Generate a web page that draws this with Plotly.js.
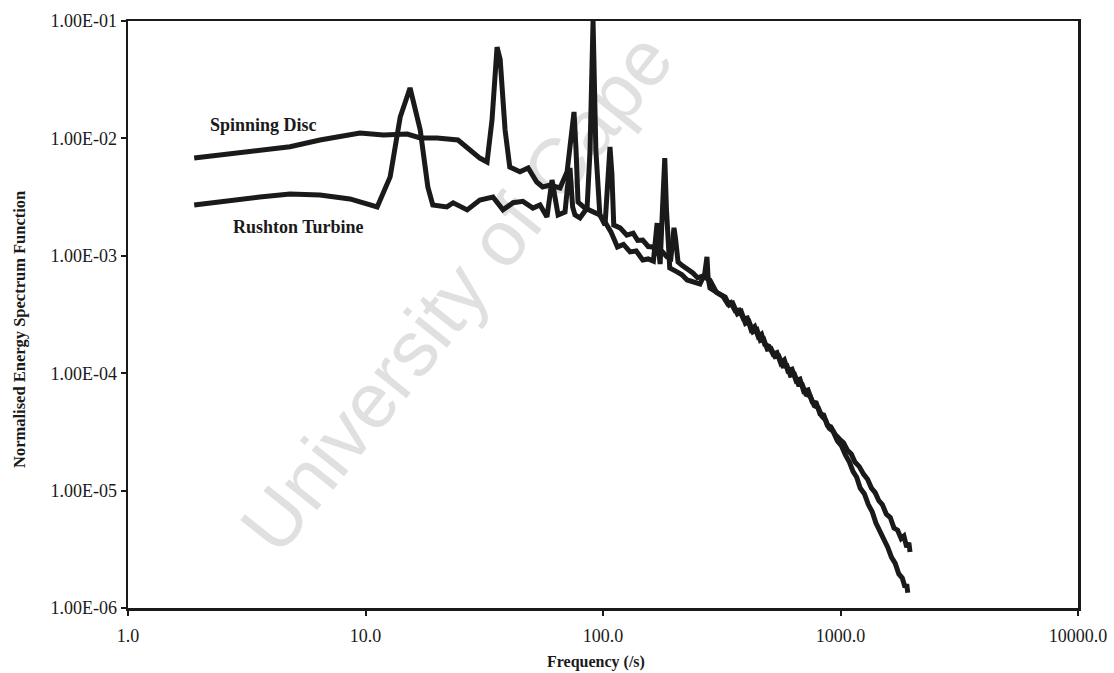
<!DOCTYPE html>
<html>
<head>
<meta charset="utf-8">
<script src="https://cdn.plot.ly/plotly-3.0.1.min.js"></script>
<style>
  html, body { margin: 0; padding: 0; background: #ffffff; }
  #chart { width: 1114px; height: 673px; }
</style>
</head>
<body>
<div id="chart"></div>
<script>
// Normalised energy spectrum, spinning disc vs Rushton turbine (log-log)

// Spinning Disc: frequency (1/s) and normalised energy
const discFreq = [
  1.90, 2.44, 3.26, 4.81, 6.43, 8.2, 9.48, 11.9, 15.0, 17.0, 20.0, 24.5, 27.5, 30.3, 32.5,
  34.1, 35.8, 36.9, 38.7, 40.5, 44.7, 48.4, 52.6, 55.7, 59.8, 65.9, 70.6, 73.5, 75.5, 77.0,
  78.5, 84, 91, 97, 102, 105, 107, 109, 111, 118, 126, 134, 140, 147, 155, 162, 170, 178,
  186, 193, 197, 199, 202, 207, 215, 225, 239, 250, 262, 282, 300,
  320, 335, 345, 360, 375, 390, 405, 420, 435, 450, 465, 480, 500, 520, 540, 560, 580, 600,
  625, 650, 675, 700, 730, 760, 790, 820, 850, 880, 910, 950, 990, 1030, 1070, 1110, 1150,
  1200, 1250, 1300, 1350, 1400, 1450, 1500, 1560, 1620, 1680, 1740, 1800, 1850, 1900, 1940, 1962
];
const discValue = [
  6.8e-3, 7.2e-3, 7.7e-3, 8.5e-3, 9.7e-3, 1.07e-2, 1.11e-2, 1.07e-2, 1.09e-2, 1.01e-2, 1.01e-2, 9.7e-3, 8.0e-3, 6.8e-3, 6.3e-3,
  1.44e-2, 6.0e-2, 4.7e-2, 1.18e-2, 5.7e-3, 5.2e-3, 5.6e-3, 4.25e-3, 3.86e-3, 4.0e-3, 3.78e-3, 5.2e-3, 1.2e-2, 1.68e-2, 8.0e-3,
  2.87e-3, 2.55e-3, 2.35e-3, 2.23e-3, 1.83e-3, 5.5e-3, 8.46e-3, 5.0e-3, 1.83e-3, 1.73e-3, 1.5e-3, 1.56e-3, 1.35e-3, 1.36e-3, 1.2e-3, 1.19e-3, 1.05e-3, 1.08e-3,
  9.8e-4, 9.5e-4, 1.5e-3, 1.73e-3, 1.4e-3, 8.86e-4, 8.3e-4, 7.8e-4, 7.14e-4, 6.5e-4, 6.7e-4, 6.22e-4, 4.9e-4,
  4.5e-4, 3.9e-4, 4.0e-4, 3.4e-4, 3.45e-4, 2.9e-4, 2.95e-4, 2.35e-4, 2.5e-4, 2.05e-4, 2.15e-4, 1.75e-4, 1.7e-4, 1.45e-4, 1.5e-4, 1.22e-4, 1.3e-4, 1.05e-4,
  1.08e-4, 8.6e-5, 8.9e-5, 7.0e-5, 7.2e-5, 5.7e-5, 5.6e-5, 4.5e-5, 4.4e-5, 3.6e-5, 3.5e-5, 3.0e-5, 2.75e-5, 2.55e-5, 2.2e-5, 2.05e-5, 1.75e-5,
  1.6e-5, 1.38e-5, 1.25e-5, 1.05e-5, 9.6e-6, 8.2e-6, 7.6e-6, 6.3e-6, 5.9e-6, 4.8e-6, 4.6e-6, 3.9e-6, 4.1e-6, 3.3e-6, 3.6e-6, 3.0e-6
];

// Rushton Turbine: frequency (1/s) and normalised energy
const turbineFreq = [
  1.90, 2.77, 3.59, 4.81, 6.43, 8.6, 10.4, 11.2, 12.7, 14.0, 15.4, 17.0, 18.3, 19.2, 22.0,
  23.4, 26.8, 30.3, 34.4, 37.9, 41.8, 46.0, 50.7, 54.3, 58.1, 61.0, 64.7, 69.2, 71.0, 72.6,
  74.5, 76.2, 80, 85.7, 88.2, 90.8, 93.3, 97, 102, 108, 115, 122, 130, 138, 147, 155, 163,
  167, 169, 171, 174, 178, 182, 185, 191, 205, 215, 226, 240, 256, 268, 274, 277, 282, 300,
  327, 340, 352, 368, 382, 398, 412, 428, 445, 460, 475, 492, 510, 530, 550, 572, 595, 615,
  640, 665, 690, 715, 745, 775, 805, 835, 865, 895, 930, 970, 1010, 1050, 1090, 1130, 1170,
  1210, 1260, 1310, 1360, 1410, 1460, 1520, 1580, 1640, 1700, 1760, 1820, 1870, 1900, 1920
];
const turbineValue = [
  2.71e-3, 3.0e-3, 3.17e-3, 3.36e-3, 3.30e-3, 3.05e-3, 2.71e-3, 2.61e-3, 4.7e-3, 1.52e-2, 2.69e-2, 1.18e-2, 3.86e-3, 2.71e-3, 2.61e-3,
  2.83e-3, 2.46e-3, 2.99e-3, 3.17e-3, 2.46e-3, 2.83e-3, 2.91e-3, 2.55e-3, 2.71e-3, 2.14e-3, 4.42e-3, 2.23e-3, 2.36e-3, 4.0e-3, 5.6e-3,
  2.6e-3, 2.23e-3, 2.1e-3, 2.55e-3, 7.96e-3, 1.0e-1, 7.96e-3, 2.23e-3, 1.94e-3, 1.6e-3, 1.19e-3, 1.25e-3, 1.08e-3, 1.1e-3, 9.2e-4, 9.4e-4, 9.0e-4,
  1.6e-3, 1.9e-3, 1.2e-3, 8.5e-4, 2.5e-3, 6.81e-3, 2.5e-3, 7.87e-4, 7.3e-4, 6.9e-4, 6.22e-4, 6.0e-4, 5.75e-4, 7.0e-4, 9.8e-4, 6.5e-4, 5.32e-4, 4.9e-4,
  4.46e-4, 3.8e-4, 3.95e-4, 3.2e-4, 3.35e-4, 2.65e-4, 2.75e-4, 2.25e-4, 2.35e-4, 1.9e-4, 1.95e-4, 1.6e-4, 1.62e-4, 1.38e-4, 1.4e-4, 1.15e-4, 1.16e-4, 9.6e-5,
  9.8e-5, 8.0e-5, 8.0e-5, 6.6e-5, 6.4e-5, 5.3e-5, 5.1e-5, 4.3e-5, 4.0e-5, 3.4e-5, 3.2e-5, 2.65e-5, 2.4e-5, 2.0e-5, 1.75e-5, 1.45e-5, 1.3e-5,
  1.05e-5, 9.4e-6, 7.6e-6, 6.6e-6, 5.3e-6, 4.6e-6, 3.8e-6, 3.3e-6, 2.7e-6, 2.4e-6, 1.95e-6, 1.8e-6, 1.5e-6, 1.6e-6, 1.35e-6
];

// Axis ticks
const xTickVals = [1, 10, 100, 1000, 10000];
const xTickText = ['1.0', '10.0', '100.0', '1000.0', '10000.0'];
const yTickVals = [1e-6, 1e-5, 1e-4, 1e-3, 1e-2, 1e-1];
const yTickText = ['1.00E-06', '1.00E-05', '1.00E-04', '1.00E-03', '1.00E-02', '1.00E-01'];

const serif = 'Liberation Serif, Times New Roman, serif';
const ink = '#1a1a1a';

const lineStyle = { color: ink, width: 5, shape: 'linear' };

const traces = [
  { x: discFreq, y: discValue, type: 'scatter', mode: 'lines', name: 'Spinning Disc', line: lineStyle },
  { x: turbineFreq, y: turbineValue, type: 'scatter', mode: 'lines', name: 'Rushton Turbine', line: lineStyle }
];

const layout = {
  width: 1114,
  height: 673,
  margin: { l: 128, r: 36, t: 21, b: 65 },
  paper_bgcolor: '#ffffff',
  plot_bgcolor: '#ffffff',
  showlegend: false,
  font: { family: serif, color: ink, size: 18 },
  xaxis: {
    type: 'log',
    range: [0, 4],
    tickmode: 'array',
    tickvals: xTickVals,
    ticktext: xTickText,
    ticks: 'outside',
    ticklen: 5,
    tickwidth: 2,
    tickcolor: ink,
    ticklabelstandoff: 5,
    showline: true,
    linecolor: ink,
    linewidth: 2.5,
    mirror: true,
    showgrid: false,
    zeroline: false,
    tickfont: { family: serif, size: 18, color: ink }
  },
  yaxis: {
    type: 'log',
    range: [-6, -1],
    tickmode: 'array',
    tickvals: yTickVals,
    ticktext: yTickText,
    ticks: 'outside',
    ticklen: 5,
    tickwidth: 2,
    tickcolor: ink,
    showline: true,
    linecolor: ink,
    linewidth: 2.5,
    mirror: true,
    showgrid: false,
    zeroline: false,
    tickfont: { family: serif, size: 18, color: ink }
  },
  shapes: [
    {
      // faint diagonal watermark behind the curves
      type: 'line',
      xref: 'paper', yref: 'paper',
      x0: 0.13, y0: 0.12, x1: 0.55, y1: 0.97,
      layer: 'below',
      line: { color: 'rgba(0,0,0,0)', width: 0 },
      label: {
        text: 'University of Cape',
        textangle: 'auto',
        textposition: 'middle',
        xanchor: 'center',
        yanchor: 'middle',
        font: { family: 'Liberation Sans, Arial, sans-serif', size: 78, color: '#e0e0e0' }
      }
    }
  ],
  annotations: [
    {
      xref: 'paper', yref: 'paper',
      x: (263 - 128) / 950, y: (608 - 125) / 587,
      text: '<b>Spinning Disc</b>',
      showarrow: false,
      xanchor: 'center', yanchor: 'middle',
      font: { family: serif, size: 18, color: ink }
    },
    {
      xref: 'paper', yref: 'paper',
      x: (298 - 128) / 950, y: (608 - 227) / 587,
      text: '<b>Rushton Turbine</b>',
      showarrow: false,
      xanchor: 'center', yanchor: 'middle',
      font: { family: serif, size: 18, color: ink }
    },
    {
      // x-axis title
      xref: 'paper', yref: 'paper',
      x: (596 - 128) / 950, y: -(662 - 608) / 587,
      text: '<b>Frequency (/s)</b>',
      showarrow: false,
      xanchor: 'center', yanchor: 'middle',
      font: { family: serif, size: 16, color: ink }
    },
    {
      // y-axis title
      xref: 'paper', yref: 'paper',
      x: -(128 - 19) / 950, y: (608 - 330) / 587,
      text: '<b>Normalised Energy Spectrum Function</b>',
      textangle: -90,
      showarrow: false,
      xanchor: 'center', yanchor: 'middle',
      font: { family: serif, size: 16.5, color: ink }
    }
  ]
};

Plotly.newPlot('chart', traces, layout, { staticPlot: true, displayModeBar: false });
</script>
</body>
</html>
